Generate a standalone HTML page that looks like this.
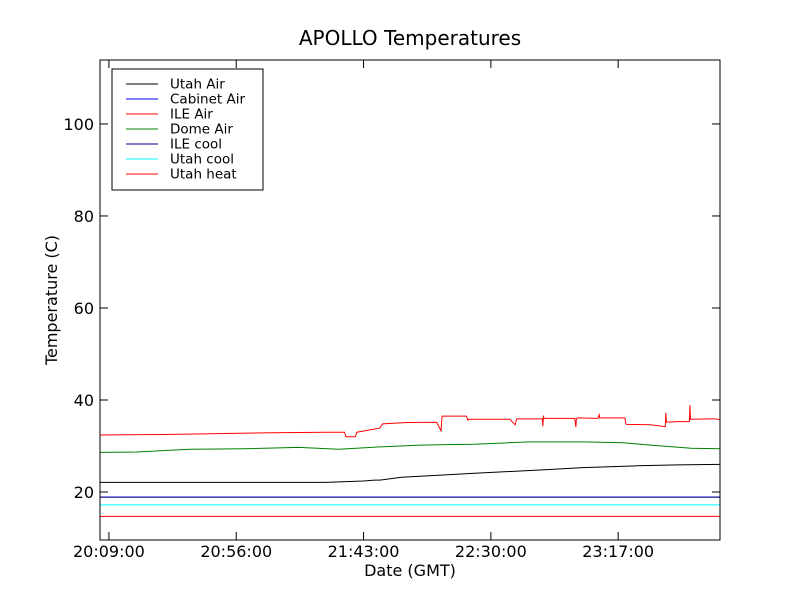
<!DOCTYPE html>
<html><head><meta charset="utf-8"><style>
body{margin:0;background:#fff;}
svg{font-family:"DejaVu Sans","Liberation Sans",sans-serif;}
</style></head><body>
<svg id="chart" width="800" height="600" viewBox="0 0 800 600">
<rect width="800" height="600" fill="#fff"/>
<text x="410" y="45" font-size="20" text-anchor="middle">APOLLO Temperatures</text>
<g id="plot"></g>
<rect x="100" y="60" width="620" height="480" fill="none" stroke="#000" stroke-width="1"/>
<text x="410" y="576" font-size="16" text-anchor="middle">Date (GMT)</text>
<text transform="translate(57,300) rotate(-90)" font-size="16" text-anchor="middle">Temperature (C)</text>
<g id="legend"></g>
</svg>
<script>
const xTickMinutes=[0,47,94,141,188];
const xTickLabels=["20:09:00","20:56:00","21:43:00","22:30:00","23:17:00"];
const yTicks=[20,40,60,80,100];
const seriesNames=["Utah Air","Cabinet Air","ILE Air","Dome Air","ILE cool","Utah cool","Utah heat"];
const seriesColors=["#000","#0000ff","#ff0000","#008000","#000080","#00ffff","#ff0000"];
const ileAirT=[-3.3,20,40,60,80,87,87.5,91,91.5,100,101,110,121,122,122.6,123,132,132.5,133,148,150,150.5,160,160.2,160.4,160.6,172,172.4,172.6,173,180.5,181,181.2,190.5,190.8,191,200,205.4,205.6,205.8,210,214.3,214.5,214.7,222,224,225.6];
const ileAirV=[32.4,32.5,32.7,32.9,33.0,33.0,32.0,32.0,33.0,33.9,34.8,35.1,35.15,34.0,33.3,36.5,36.5,35.6,35.8,35.8,34.6,35.9,35.9,34.3,36.6,36.0,36.0,34.1,35.9,36.1,36.0,36.8,36.1,36.1,35.0,34.7,34.6,34.2,37.2,35.2,35.3,35.3,38.9,35.8,35.9,35.9,35.7];
const domeAirT=[-3.3,10,30,50,70,85,100,115,125,135,155,175,190,200,215,225.6];
const domeAirV=[28.6,28.7,29.3,29.4,29.7,29.3,29.8,30.2,30.3,30.4,30.9,30.9,30.7,30.2,29.5,29.4];
const utahAirT=[-3.3,40,80,94,98,100,108,120,135,160,175,195,210,225.6];
const utahAirV=[22.1,22.1,22.1,22.4,22.6,22.6,23.2,23.6,24.1,24.8,25.3,25.7,25.9,26.0];
const cabinetAirV=18.9, ileCoolV=18.9, utahCoolV=17.2, utahHeatV=14.7;
const tMin=-3.3,tMax=225.6,vMin=9.57,vMax=113.9;
const X=t=>100+(t-tMin)/(tMax-tMin)*620;
const Y=v=>540-(v-vMin)/(vMax-vMin)*480;
const NS="http://www.w3.org/2000/svg";
const plot=document.getElementById('plot'),svg=document.getElementById('chart'),leg=document.getElementById('legend');
function mk(tag,at,parent){const e=document.createElementNS(NS,tag);for(const k in at)e.setAttribute(k,at[k]);parent.appendChild(e);return e;}
function poly(ts,vs,color,name){
  const pts=ts.map((t,i)=>X(t).toFixed(1)+','+Y(vs[i]).toFixed(1)).join(' ');
  const p=mk('polyline',{points:pts,fill:'none',stroke:color,'stroke-width':1},plot);
  
  
}
poly([tMin,tMax],[utahHeatV,utahHeatV],seriesColors[6],'utah-heat-line');
poly([tMin,tMax],[utahCoolV,utahCoolV],seriesColors[5],'utah-cool-line');
poly([tMin,tMax],[cabinetAirV,cabinetAirV],seriesColors[1],'cabinet-air-line');
poly([tMin,tMax],[ileCoolV,ileCoolV],seriesColors[4],'ile-cool-line');
poly(utahAirT,utahAirV,seriesColors[0],'utah-air-line');
poly(domeAirT,domeAirV,seriesColors[3],'dome-air-line');
poly(ileAirT,ileAirV,seriesColors[2],'ile-air-line');
yTicks.forEach(v=>{
  const y=Y(v);
  const a=mk('line',{x1:100,x2:108,y1:y,y2:y,stroke:'#000'},svg);
  
  
  const b=mk('line',{x1:712,x2:720,y1:y,y2:y,stroke:'#000'},svg);
  
  
  const t=mk('text',{x:94,y:y+6,'font-size':16,'text-anchor':'end'},svg);t.textContent=v;
  
  
});
xTickMinutes.forEach((m,i)=>{
  const x=X(m);
  const a=mk('line',{x1:x,x2:x,y1:532,y2:540,stroke:'#000'},svg);
  
  
  const b=mk('line',{x1:x,x2:x,y1:60,y2:68,stroke:'#000'},svg);
  
  
  const t=mk('text',{x:x,y:557,'font-size':16,'text-anchor':'middle'},svg);t.textContent=xTickLabels[i];
  
  
});
const lb=mk('rect',{x:112,y:69,width:151,height:121,fill:'#fff',stroke:'#000'},leg);


seriesNames.forEach((n,i)=>{
  const y=84+i*15;
  const l=mk('line',{x1:126,x2:158,y1:y,y2:y,stroke:seriesColors[i]},leg);
  
  
  const t=mk('text',{x:170,y:y+4.5,'font-size':13.5},leg);t.textContent=n;
  
  
});
</script>
</body></html>
